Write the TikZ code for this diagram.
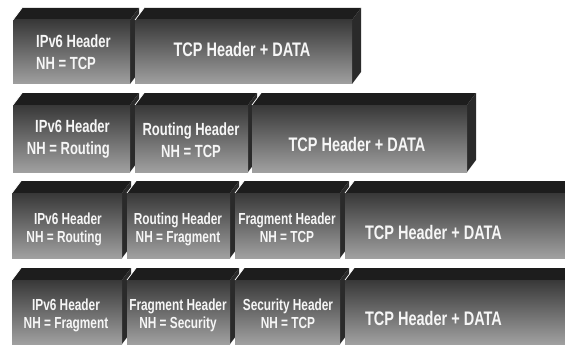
\documentclass[tikz,border=0pt]{standalone}
\usepackage{fontspec}
\newfontfamily\labelfont{Liberation Sans}[FakeStretch=0.74]
\definecolor{topgray}{HTML}{1D1D1D}
\definecolor{sidegray}{HTML}{2A2A2A}
\definecolor{fronttop}{HTML}{383838}
\definecolor{frontbot}{HTML}{A0A0A0}
\definecolor{labelwhite}{HTML}{F6F6F6}

% one header block: left, right, front top, front bottom (y grows downwards)
\newcommand\pktbox[4]{%
  \fill[sideface] (#2,#3) -- (#2+9,#3-12) -- (#2+9,#4-12) -- (#2,#4) -- cycle;
  \fill[topface] (#1,#3) -- (#1+9,#3-12) -- (#2+9,#3-12) -- (#2,#3) -- cycle;
  \shade[frontface] (#1,#3) rectangle (#2,#4);
  \draw[joint] (#1,#3) -- (#1+9,#3-12);
}

\begin{document}
\begin{tikzpicture}[x=1pt,y=-1pt,
  topface/.style={fill=topgray},
  sideface/.style={fill=sidegray},
  frontface/.style={top color=fronttop,bottom color=frontbot},
  joint/.style={draw=white,line width=0.7pt},
  lblA/.style={text=labelwhite,inner sep=0pt,
    font=\labelfont\bfseries\fontsize{17.6}{22}\selectfont},
  lblB/.style={text=labelwhite,inner sep=0pt,
    font=\labelfont\bfseries\fontsize{16}{17.5}\selectfont},
  big/.style={text=labelwhite,inner sep=0pt,
    font=\labelfont\bfseries\fontsize{19.6}{22}\selectfont}]
\useasboundingbox (0,0) rectangle (565,345);
\clip (0,0) rectangle (565,345);

% row 1
\pktbox{13}{130}{20}{84}
\pktbox{135}{352}{20}{84}
% row 2
\pktbox{13}{130}{105}{172}
\pktbox{135}{248}{105}{172}
\pktbox{252}{467}{105}{172}
% row 3
\pktbox{12}{122}{193}{258}
\pktbox{127}{230}{193}{258}
\pktbox{235}{340}{193}{258}
\pktbox{345}{590}{193}{258}
% row 4
\pktbox{12}{122}{280}{344}
\pktbox{127}{230}{280}{344}
\pktbox{235}{340}{280}{344}
\pktbox{345}{590}{280}{344}

% labels
\node[lblA,anchor=west,align=left] (r1ip) at (36,52) {IPv6 Header\\NH = TCP};
\node[big] (r1tcp) at (242,49) {TCP Header + DATA};

\node[lblA,anchor=east,align=right] (r2ip) at (110,139) {IPv6 Header\\NH = Routing};
\node[lblA,align=center] (r2rt) at (191,140) {Routing Header\\NH = TCP};
\node[big] (r2tcp) at (357,144) {TCP Header + DATA};

\node[lblB,anchor=east,align=right] (r3ip) at (102,229.5) {IPv6 Header\\NH = Routing};
\node[lblB,align=center] (r3rt) at (178,229.5) {Routing Header\\NH = Fragment};
\node[lblB,align=center] (r3fr) at (287,228) {Fragment Header\\NH = TCP};
\node[big] (r3tcp) at (433.5,232) {TCP Header + DATA};

\node[lblB,align=center] (r4ip) at (66,315.5) {IPv6 Header\\NH = Fragment};
\node[lblB,align=center] (r4fr) at (178,315.5) {Fragment Header\\NH = Security};
\node[lblB,align=center] (r4sc) at (288,314) {Security Header\\NH = TCP};
\node[big] (r4tcp) at (433.5,318) {TCP Header + DATA};
\end{tikzpicture}
\end{document}
